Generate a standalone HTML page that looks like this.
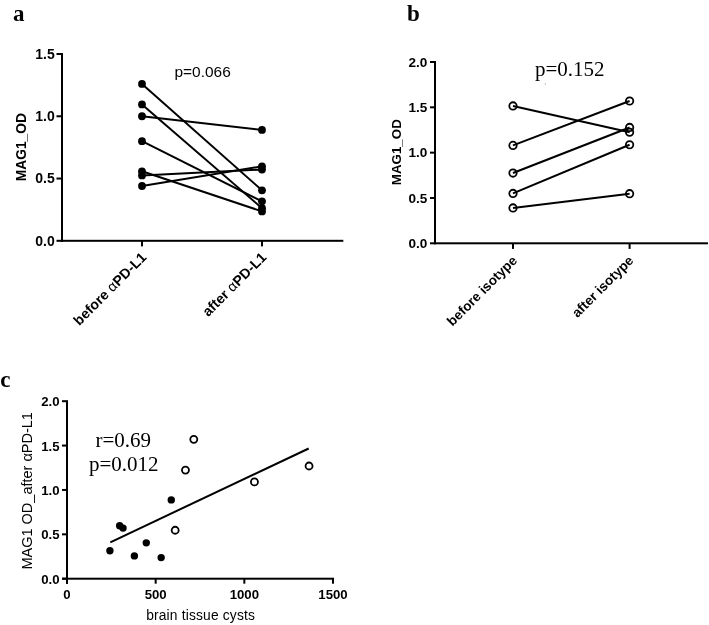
<!DOCTYPE html>
<html><head><meta charset="utf-8"><title>Figure</title>
<style>
html,body{margin:0;padding:0;background:#fff;}
body{width:709px;height:625px;overflow:hidden;font-family:"Liberation Sans",sans-serif;}
svg{display:block;filter:grayscale(1);}
</style></head>
<body>
<svg width="709" height="625" viewBox="0 0 709 625">
<rect x="0" y="0" width="709" height="625" fill="#fff"/>
<text x="13.10" y="20.60" font-family='"Liberation Serif", serif' font-size="23" font-weight="bold" text-anchor="start" fill="#000" >a</text>
<text x="407.00" y="20.60" font-family='"Liberation Serif", serif' font-size="23" font-weight="bold" text-anchor="start" fill="#000" >b</text>
<text x="0.20" y="387.30" font-family='"Liberation Serif", serif' font-size="23" font-weight="bold" text-anchor="start" fill="#000" >c</text>
<rect x="61.00" y="53.00" width="2.00" height="189.00" fill="#000"/>
<rect x="61.00" y="239.80" width="282.30" height="2.00" fill="#000"/>
<rect x="56.50" y="239.80" width="5.00" height="2.00" fill="#000"/>
<text x="54.70" y="245.70" font-family='"Liberation Sans", sans-serif' font-size="14.0" font-weight="bold" text-anchor="end" fill="#000" >0.0</text>
<rect x="56.50" y="177.53" width="5.00" height="2.00" fill="#000"/>
<text x="54.70" y="183.43" font-family='"Liberation Sans", sans-serif' font-size="14.0" font-weight="bold" text-anchor="end" fill="#000" >0.5</text>
<rect x="56.50" y="115.27" width="5.00" height="2.00" fill="#000"/>
<text x="54.70" y="121.17" font-family='"Liberation Sans", sans-serif' font-size="14.0" font-weight="bold" text-anchor="end" fill="#000" >1.0</text>
<rect x="56.50" y="53.00" width="5.00" height="2.00" fill="#000"/>
<text x="54.70" y="58.90" font-family='"Liberation Sans", sans-serif' font-size="14.0" font-weight="bold" text-anchor="end" fill="#000" >1.5</text>
<rect x="141.00" y="241.00" width="2.00" height="5.40" fill="#000"/>
<rect x="261.00" y="241.00" width="2.00" height="5.40" fill="#000"/>
<text transform="translate(26.40,147.20) rotate(-90)" font-family='"Liberation Sans", sans-serif' font-size="13.8" font-weight="bold" text-anchor="middle" fill="#000">MAG1_OD</text>
<text x="174.50" y="76.90" font-family='"Liberation Sans", sans-serif' font-size="15.45" font-weight="normal" text-anchor="start" fill="#000" >p=0.066</text>
<line x1="142.00" y1="83.89" x2="262.00" y2="190.36" stroke="#000" stroke-width="2" stroke-linecap="butt"/>
<line x1="142.00" y1="104.44" x2="262.00" y2="208.17" stroke="#000" stroke-width="2" stroke-linecap="butt"/>
<line x1="142.00" y1="116.27" x2="262.00" y2="129.97" stroke="#000" stroke-width="2" stroke-linecap="butt"/>
<line x1="142.00" y1="141.17" x2="262.00" y2="201.32" stroke="#000" stroke-width="2" stroke-linecap="butt"/>
<line x1="142.00" y1="171.31" x2="262.00" y2="211.41" stroke="#000" stroke-width="2" stroke-linecap="butt"/>
<line x1="142.00" y1="175.42" x2="262.00" y2="169.57" stroke="#000" stroke-width="2" stroke-linecap="butt"/>
<line x1="142.00" y1="186.01" x2="262.00" y2="166.33" stroke="#000" stroke-width="2" stroke-linecap="butt"/>
<circle cx="142.00" cy="83.89" r="3.9" fill="#000"/>
<circle cx="262.00" cy="190.36" r="3.9" fill="#000"/>
<circle cx="142.00" cy="104.44" r="3.9" fill="#000"/>
<circle cx="262.00" cy="208.17" r="3.9" fill="#000"/>
<circle cx="142.00" cy="116.27" r="3.9" fill="#000"/>
<circle cx="262.00" cy="129.97" r="3.9" fill="#000"/>
<circle cx="142.00" cy="141.17" r="3.9" fill="#000"/>
<circle cx="262.00" cy="201.32" r="3.9" fill="#000"/>
<circle cx="142.00" cy="171.31" r="3.9" fill="#000"/>
<circle cx="262.00" cy="211.41" r="3.9" fill="#000"/>
<circle cx="142.00" cy="175.42" r="3.9" fill="#000"/>
<circle cx="262.00" cy="169.57" r="3.9" fill="#000"/>
<circle cx="142.00" cy="186.01" r="3.9" fill="#000"/>
<circle cx="262.00" cy="166.33" r="3.9" fill="#000"/>
<text transform="translate(147.30,258.10) rotate(-45)" font-family='"Liberation Sans", sans-serif' font-size="14.15" font-weight="bold" text-anchor="end" fill="#000">before <tspan font-weight="normal">α</tspan>PD-L1</text>
<text transform="translate(267.30,258.10) rotate(-45)" font-family='"Liberation Sans", sans-serif' font-size="14.15" font-weight="bold" text-anchor="end" fill="#000">after <tspan font-weight="normal">α</tspan>PD-L1</text>
<rect x="434.00" y="61.00" width="2.00" height="183.30" fill="#000"/>
<rect x="434.00" y="242.30" width="274.00" height="2.00" fill="#000"/>
<rect x="430.00" y="242.30" width="4.50" height="2.00" fill="#000"/>
<text x="427.30" y="248.10" font-family='"Liberation Sans", sans-serif' font-size="13.55" font-weight="bold" text-anchor="end" fill="#000" >0.0</text>
<rect x="430.00" y="196.98" width="4.50" height="2.00" fill="#000"/>
<text x="427.30" y="202.78" font-family='"Liberation Sans", sans-serif' font-size="13.55" font-weight="bold" text-anchor="end" fill="#000" >0.5</text>
<rect x="430.00" y="151.65" width="4.50" height="2.00" fill="#000"/>
<text x="427.30" y="157.45" font-family='"Liberation Sans", sans-serif' font-size="13.55" font-weight="bold" text-anchor="end" fill="#000" >1.0</text>
<rect x="430.00" y="106.32" width="4.50" height="2.00" fill="#000"/>
<text x="427.30" y="112.12" font-family='"Liberation Sans", sans-serif' font-size="13.55" font-weight="bold" text-anchor="end" fill="#000" >1.5</text>
<rect x="430.00" y="61.00" width="4.50" height="2.00" fill="#000"/>
<text x="427.30" y="66.80" font-family='"Liberation Sans", sans-serif' font-size="13.55" font-weight="bold" text-anchor="end" fill="#000" >2.0</text>
<rect x="512.00" y="243.50" width="2.00" height="5.40" fill="#000"/>
<rect x="628.60" y="243.50" width="2.00" height="5.40" fill="#000"/>
<text transform="translate(400.80,152.20) rotate(-90)" font-family='"Liberation Sans", sans-serif' font-size="13.35" font-weight="bold" text-anchor="middle" fill="#000">MAG1_OD</text>
<text x="535.00" y="76.10" font-family='"Liberation Serif", serif' font-size="21" font-weight="normal" text-anchor="start" fill="#000" >p=0.152</text>
<circle cx="545.4" cy="83.9" r="0.6" fill="#999"/>
<circle cx="513.00" cy="105.97" r="3.7" fill="none" stroke="#000" stroke-width="1.8"/>
<circle cx="629.60" cy="132.25" r="3.7" fill="none" stroke="#000" stroke-width="1.8"/>
<circle cx="513.00" cy="145.40" r="3.7" fill="none" stroke="#000" stroke-width="1.8"/>
<circle cx="629.60" cy="100.98" r="3.7" fill="none" stroke="#000" stroke-width="1.8"/>
<circle cx="513.00" cy="173.05" r="3.7" fill="none" stroke="#000" stroke-width="1.8"/>
<circle cx="629.60" cy="127.45" r="3.7" fill="none" stroke="#000" stroke-width="1.8"/>
<circle cx="513.00" cy="193.44" r="3.7" fill="none" stroke="#000" stroke-width="1.8"/>
<circle cx="629.60" cy="144.76" r="3.7" fill="none" stroke="#000" stroke-width="1.8"/>
<circle cx="513.00" cy="207.95" r="3.7" fill="none" stroke="#000" stroke-width="1.8"/>
<circle cx="629.60" cy="193.71" r="3.7" fill="none" stroke="#000" stroke-width="1.8"/>
<line x1="513.00" y1="105.97" x2="629.60" y2="132.25" stroke="#000" stroke-width="2" stroke-linecap="butt"/>
<line x1="513.00" y1="145.40" x2="629.60" y2="100.98" stroke="#000" stroke-width="2" stroke-linecap="butt"/>
<line x1="513.00" y1="173.05" x2="629.60" y2="127.45" stroke="#000" stroke-width="2" stroke-linecap="butt"/>
<line x1="513.00" y1="193.44" x2="629.60" y2="144.76" stroke="#000" stroke-width="2" stroke-linecap="butt"/>
<line x1="513.00" y1="207.95" x2="629.60" y2="193.71" stroke="#000" stroke-width="2" stroke-linecap="butt"/>
<text transform="translate(518.00,261.30) rotate(-45)" font-family='"Liberation Sans", sans-serif' font-size="13.55" font-weight="bold" text-anchor="end" fill="#000">before isotype</text>
<text transform="translate(634.40,261.30) rotate(-45)" font-family='"Liberation Sans", sans-serif' font-size="13.55" font-weight="bold" text-anchor="end" fill="#000">after isotype</text>
<rect x="66.00" y="400.20" width="2.00" height="183.60" fill="#000"/>
<rect x="62.00" y="577.70" width="272.00" height="2.00" fill="#000"/>
<rect x="62.00" y="577.70" width="4.50" height="2.00" fill="#000"/>
<text x="59.60" y="583.80" font-family='"Liberation Sans", sans-serif' font-size="13.2" font-weight="bold" text-anchor="end" fill="#000" >0.0</text>
<rect x="62.00" y="533.33" width="4.50" height="2.00" fill="#000"/>
<text x="59.60" y="539.43" font-family='"Liberation Sans", sans-serif' font-size="13.2" font-weight="bold" text-anchor="end" fill="#000" >0.5</text>
<rect x="62.00" y="488.95" width="4.50" height="2.00" fill="#000"/>
<text x="59.60" y="495.05" font-family='"Liberation Sans", sans-serif' font-size="13.2" font-weight="bold" text-anchor="end" fill="#000" >1.0</text>
<rect x="62.00" y="444.57" width="4.50" height="2.00" fill="#000"/>
<text x="59.60" y="450.68" font-family='"Liberation Sans", sans-serif' font-size="13.2" font-weight="bold" text-anchor="end" fill="#000" >1.5</text>
<rect x="62.00" y="400.20" width="4.50" height="2.00" fill="#000"/>
<text x="59.60" y="406.30" font-family='"Liberation Sans", sans-serif' font-size="13.2" font-weight="bold" text-anchor="end" fill="#000" >2.0</text>
<rect x="66.00" y="578.00" width="2.00" height="5.70" fill="#000"/>
<text x="67.00" y="599.40" font-family='"Liberation Sans", sans-serif' font-size="13.2" font-weight="bold" text-anchor="middle" fill="#000" >0</text>
<rect x="154.67" y="578.00" width="2.00" height="5.70" fill="#000"/>
<text x="155.67" y="599.40" font-family='"Liberation Sans", sans-serif' font-size="13.2" font-weight="bold" text-anchor="middle" fill="#000" >500</text>
<rect x="243.33" y="578.00" width="2.00" height="5.70" fill="#000"/>
<text x="244.33" y="599.40" font-family='"Liberation Sans", sans-serif' font-size="13.2" font-weight="bold" text-anchor="middle" fill="#000" >1000</text>
<rect x="332.00" y="578.00" width="2.00" height="5.70" fill="#000"/>
<text x="333.00" y="599.40" font-family='"Liberation Sans", sans-serif' font-size="13.2" font-weight="bold" text-anchor="middle" fill="#000" >1500</text>
<text x="200.60" y="619.60" font-family='"Liberation Sans", sans-serif' font-size="13.8" font-weight="normal" text-anchor="middle" fill="#000" letter-spacing="0.17">brain tissue cysts</text>
<text transform="translate(32.00,490.80) rotate(-90)" font-family='"Liberation Sans", sans-serif' font-size="14.5" font-weight="normal" text-anchor="middle" fill="#000">MAG1 OD_after αPD-L1</text>
<text x="123.30" y="446.50" font-family='"Liberation Serif", serif' font-size="21" font-weight="normal" text-anchor="middle" fill="#000" >r=0.69</text>
<text x="123.80" y="470.80" font-family='"Liberation Serif", serif' font-size="21" font-weight="normal" text-anchor="middle" fill="#000" >p=0.012</text>
<line x1="110.30" y1="542.30" x2="308.70" y2="448.50" stroke="#000" stroke-width="2" stroke-linecap="butt"/>
<circle cx="109.91" cy="550.74" r="3.7" fill="#000"/>
<circle cx="119.67" cy="525.72" r="3.7" fill="#000"/>
<circle cx="123.04" cy="528.11" r="3.7" fill="#000"/>
<circle cx="134.39" cy="555.89" r="3.7" fill="#000"/>
<circle cx="146.27" cy="542.85" r="3.7" fill="#000"/>
<circle cx="161.16" cy="557.58" r="3.7" fill="#000"/>
<circle cx="171.27" cy="499.89" r="3.7" fill="#000"/>
<circle cx="175.17" cy="530.24" r="3.5" fill="none" stroke="#000" stroke-width="1.8"/>
<circle cx="193.79" cy="439.36" r="3.5" fill="none" stroke="#000" stroke-width="1.8"/>
<circle cx="185.46" cy="470.07" r="3.5" fill="none" stroke="#000" stroke-width="1.8"/>
<circle cx="254.44" cy="481.96" r="3.5" fill="none" stroke="#000" stroke-width="1.8"/>
<circle cx="309.06" cy="465.99" r="3.5" fill="none" stroke="#000" stroke-width="1.8"/>
</svg>
</body></html>
